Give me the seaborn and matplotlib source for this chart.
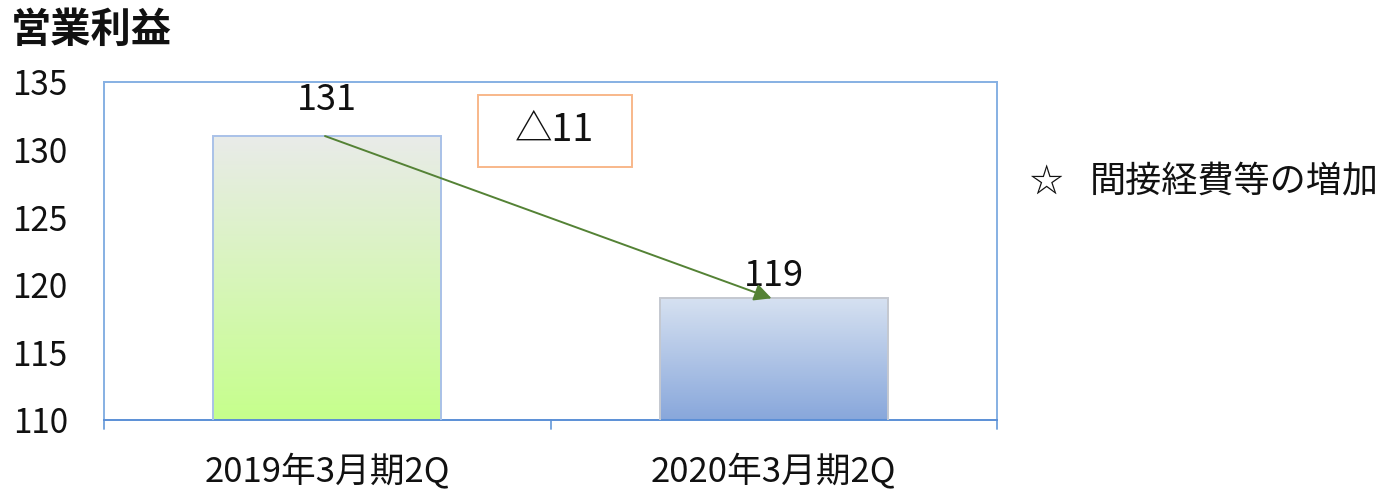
import numpy as np
import pandas as pd
import seaborn as sns
import matplotlib.pyplot as plt
from matplotlib.colors import LinearSegmentedColormap
from matplotlib.patches import Rectangle

# data
categories = ["2019年3月期2Q", "2020年3月期2Q"]
profits = [131, 119]
diff_label = "△11"
yticks = [110, 115, 120, 125, 130, 135]
note = "間接経費等の増加"

sns.set_theme(style="white")
plt.rcParams['font.family'] = ['Noto Sans CJK JP', 'DejaVu Sans']

df = pd.DataFrame({"period": categories, "profit": profits})

fig = plt.figure(figsize=(13.9, 4.9), dpi=100)
ax = fig.add_axes([0.0748, 0.1429, 0.6425, 0.6898])

sns.barplot(data=df, x="period", y="profit", ax=ax, width=0.51,
            color="white", saturation=1)
ax.set_ylim(110, 135)
ax.set_xlim(-0.5, 1.5)

# gradient fills clipped to each bar
grads = [("#e9ebe9", "#c6ff8c"), ("#d6e1f1", "#88a7db")]
edges = ["#a9c1e8", "#c4c8d0"]
for patch, (top, bottom), ec in zip(ax.patches, grads, edges):
    x0 = patch.get_x()
    w = patch.get_width()
    h = patch.get_height()
    cmap = LinearSegmentedColormap.from_list("g", [bottom, top])
    grad = np.linspace(0, 1, 256).reshape(-1, 1)
    im = ax.imshow(grad, cmap=cmap, aspect="auto", origin="lower",
                   extent=[x0, x0 + w, 110, h], zorder=2)
    im.set_clip_path(patch)
    patch.set_facecolor("none")
    patch.set_edgecolor(ec)
    patch.set_linewidth(1.4)
    patch.set_zorder(3)

# value labels
for i, v in enumerate(profits):
    off = 2.65 if i == 0 else 1.65
    ax.text(i, v + off, str(v), ha="center", va="center", fontsize=26,
            color="#111111", zorder=5)

# arrow between bar tops
ax.annotate("", xy=(0.995, profits[1]), xytext=(-0.005, profits[0]),
            arrowprops=dict(arrowstyle="-|>", color="#548235", lw=1.4,
                            mutation_scale=26, shrinkA=0, shrinkB=0),
            zorder=6)

# difference box
ax.add_patch(Rectangle((0.338, 128.71), 0.345, 5.33, fc="white",
                       ec="#f8b88a", lw=1.4, zorder=6))
ax.text(0.51, 131.4, diff_label, ha="center", va="center", fontsize=27,
        color="#111111", zorder=7)

ax.set_yticks(yticks)
ax.set_yticklabels([str(t) for t in yticks], fontsize=24, color="#111111")
ax.set_xticks([0, 1])
ax.set_xticklabels(categories, fontsize=25, color="#111111")
ax.tick_params(axis="x", length=0, pad=24)
ax.tick_params(axis="y", length=0, pad=26)
ax.set_xlabel("")
ax.set_ylabel("")

# category separators on the bottom axis
for xt in [-0.5, 0.5, 1.5]:
    ax.plot([xt, xt], [110, 109.3], color="#6fa0dc", lw=1.3, clip_on=False)

for s in ax.spines.values():
    s.set_visible(True)
    s.set_color("#86b0e3")
    s.set_linewidth(1.4)
ax.spines["bottom"].set_color("#5b8fd6")

fig.text(0.008, 0.937, "営業利益", fontsize=29, fontweight="bold",
         color="#111111", va="center", ha="left")
fig.text(0.741, 0.627, "☆", fontsize=24, color="#111111", va="center", ha="left")
fig.text(0.784, 0.627, note, fontsize=26, color="#111111", va="center", ha="left")

plt.savefig("out.png", dpi=100)
